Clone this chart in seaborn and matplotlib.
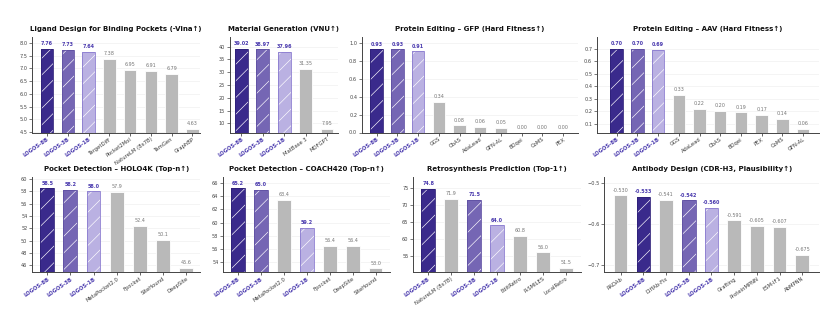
import matplotlib
matplotlib.use("Agg")
import matplotlib.pyplot as plt
import seaborn as sns
from matplotlib.patches import Rectangle
from matplotlib.ticker import MultipleLocator

sns.set_theme(style="white")
plt.rcParams['font.family'] = ['DejaVu Sans']
plt.rcParams['hatch.linewidth'] = 0.45

# ---------------- data ----------------
ligand_methods = ["LOGOS-8B", "LOGOS-3B", "LOGOS-1B", "TargetDiff", "Pocket2Mol",
                  "NatureLM (8x7B)", "TamGen", "GraphBP"]
ligand_vals = [7.76, 7.73, 7.64, 7.38, 6.95, 6.91, 6.79, 4.63]

material_methods = ["LOGOS-8B", "LOGOS-3B", "LOGOS-1B", "MatBase 3", "MOFGPT"]
material_vals = [39.02, 38.97, 37.96, 31.35, 7.95]

gfp_methods = ["LOGOS-8B", "LOGOS-3B", "LOGOS-1B", "GGS", "CbAS", "AdaLead",
               "GFN-AL", "BOqei", "CoMS", "PEX"]
gfp_vals = [0.93, 0.93, 0.91, 0.34, 0.08, 0.06, 0.05, 0.00, 0.00, 0.00]

aav_methods = ["LOGOS-8B", "LOGOS-3B", "LOGOS-1B", "GGS", "AdaLead", "CbAS",
               "BOqei", "PEX", "CoMS", "GFN-AL"]
aav_vals = [0.70, 0.70, 0.69, 0.33, 0.22, 0.20, 0.19, 0.17, 0.14, 0.06]

holo_methods = ["LOGOS-8B", "LOGOS-3B", "LOGOS-1B", "MetaPocket2.0", "Fpocket",
                "SiteHound", "DeepSite"]
holo_vals = [58.5, 58.2, 58.0, 57.9, 52.4, 50.1, 45.6]

coach_methods = ["LOGOS-8B", "LOGOS-3B", "MetaPocket2.0", "LOGOS-1B", "Fpocket",
                 "DeepSite", "SiteHound"]
coach_vals = [65.2, 65.0, 63.4, 59.2, 56.4, 56.4, 53.0]

retro_methods = ["LOGOS-8B", "NatureLM (8x7B)", "LOGOS-3B", "LOGOS-1B", "EditRetro",
                 "R-SMILES", "LocalRetro"]
retro_vals = [74.8, 71.9, 71.5, 64.0, 60.8, 56.0, 51.5]

ab_methods = ["RADAb", "LOGOS-8B", "DiffAb-Fix", "LOGOS-3B", "LOGOS-1B", "Grafting",
              "ProteinMPNN", "ESM-IF1", "AbMPNN"]
ab_vals = [-0.530, -0.533, -0.541, -0.542, -0.560, -0.591, -0.605, -0.607, -0.675]

titles = ["Ligand Design for Binding Pockets (-Vina↑)",
          "Material Generation (VNU↑)",
          "Protein Editing – GFP (Hard Fitness↑)",
          "Protein Editing – AAV (Hard Fitness↑)",
          "Pocket Detection – HOLO4K (Top-n↑)",
          "Pocket Detection – COACH420 (Top-n↑)",
          "Retrosynthesis Prediction (Top-1↑)",
          "Antibody Design (CDR-H3, Plausibility↑)"]

# ---------------- styling / layout ----------------
W, H = 834, 316
logos_fill = {"LOGOS-8B": "#3a2a8c", "LOGOS-3B": "#7566b4", "LOGOS-1B": "#bab1e2"}
logos_edge = {"LOGOS-8B": "#2e2078", "LOGOS-3B": "#5f50a3", "LOGOS-1B": "#8a7bd0"}
logos_text = "#4a3aae"
gray = "#b9b9b9"
gray_text = "#777777"

panels = [
    (ligand_methods, ligand_vals, "{:.2f}", (32.3, 200, 37, 132.5), (-0.71, 7.37), (4.48, 8.24), 0.5),
    (material_methods, material_vals, "{:.2f}", (230, 338, 37, 132.5), (-0.53, 4.51), (6.4, 43.8), 5),
    (gfp_methods, gfp_vals, "{:.2f}", (362, 578, 37, 132.5), (-0.71, 9.72), (0.0, 1.07), 0.2),
    (aav_methods, aav_vals, "{:.2f}", (597, 819, 37, 132.5), (-0.95, 9.77), (0.028, 0.796), 0.1),
    (holo_methods, holo_vals, "{:.1f}", (32.3, 200, 177, 272), (-0.65, 6.61), (44.9, 60.35), 2),
    (coach_methods, coach_vals, "{:.1f}", (223.3, 390, 177, 272), (-0.65, 6.63), (52.45, 66.95), 2),
    (retro_methods, retro_vals, "{:.1f}", (413.3, 580.7, 177, 272), (-0.65, 6.63), (50.2, 78.3), 5),
    (ab_methods, ab_vals, "{:.3f}", (604.3, 819, 177, 272), (-0.72, 8.74), (-0.717, -0.485), 0.1),
]

fig = plt.figure(figsize=(W / 100, H / 100), dpi=100)
fig.patch.set_facecolor("white")

for (methods, vals, fmt, (x0, x1, y0, y1), xl, yl, step), title in zip(panels, titles):
    ax = fig.add_axes([x0 / W, 1 - y1 / H, (x1 - x0) / W, (y1 - y0) / H])
    colors = [logos_fill.get(m, gray) for m in methods]
    sns.barplot(x=methods, y=vals, hue=methods, palette=colors, legend=False,
                width=0.6, ax=ax, saturation=1, linewidth=0.6, edgecolor="white")
    ax.set_xlim(*xl)
    ax.set_ylim(*yl)
    ax.yaxis.set_major_locator(MultipleLocator(step))
    ax.grid(axis="y", color="#ededed", linewidth=0.4)
    ax.set_axisbelow(True)
    for s in ["top", "right"]:
        ax.spines[s].set_visible(False)
    for s in ["left", "bottom"]:
        ax.spines[s].set_color("#444444")
        ax.spines[s].set_linewidth(0.7)
    ax.tick_params(axis="y", labelsize=3.6, length=2, width=0.5, pad=1.5, colors="#444444",
                   left=True)
    ax.tick_params(axis="x", labelsize=3.8, length=2, width=0.5, pad=1, bottom=True)

    patches = [c.patches[0] for c in ax.containers]
    base = yl[0]
    for m, v, p in zip(methods, vals, patches):
        # bars rise from the bottom of the visible axis (matters for negative scores)
        if v < 0:
            p.set_y(base)
            p.set_height(v - base)
        is_logos = m in logos_fill
        if is_logos:
            p.set_hatch("//")
            p.set_edgecolor("white")
            p.set_linewidth(0)
            ax.add_patch(Rectangle(p.get_xy(), p.get_width(), p.get_height(), fill=False,
                                   edgecolor=logos_edge[m], linewidth=0.6,
                                   zorder=p.get_zorder() + 0.1))
        ax.annotate(fmt.format(v), (p.get_x() + p.get_width() / 2, v),
                    xytext=(0, 2), textcoords="offset points", ha="center", va="bottom",
                    fontsize=3.5, color=logos_text if is_logos else gray_text,
                    fontweight="bold" if is_logos else "normal")

    ax.set_xticks(range(len(methods)))
    ax.set_xticklabels(methods, rotation=35, ha="right", rotation_mode="anchor")
    for lab, m in zip(ax.get_xticklabels(), methods):
        if m in logos_fill:
            lab.set_color(logos_text)
            lab.set_fontweight("bold")
        else:
            lab.set_color("#3a3a3a")
    ax.set_xlabel("")
    ax.set_ylabel("")
    ax.set_title(title, fontsize=5.0, fontweight="bold", pad=4, color="#111111")

fig.savefig("out.png", dpi=100, facecolor="white")
